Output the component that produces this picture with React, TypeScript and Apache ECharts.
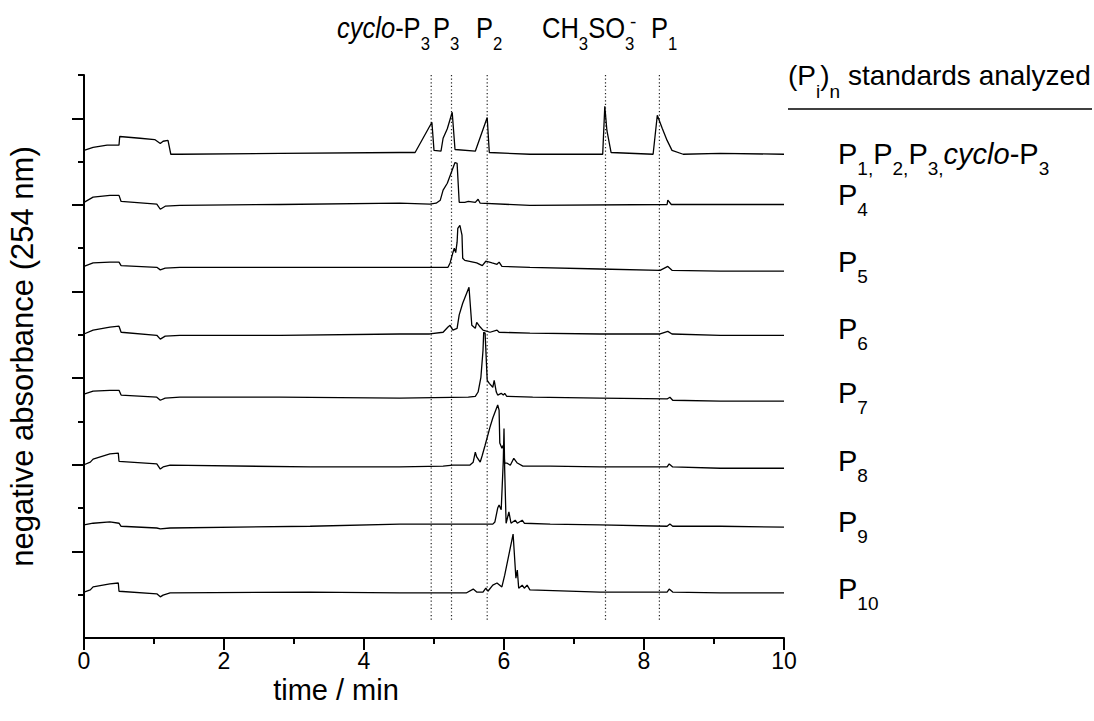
import React, { useEffect, useRef } from "react";
import * as echarts from "echarts";

const FONT = '"Liberation Sans", Arial, Helvetica, sans-serif';

// chromatogram traces: [time / min, stacked negative absorbance (a.u.)]
const traceP1P2P3cyclo = [[0,5.63],[0.13,5.665],[0.33,5.69],[0.5,5.69],[0.51,5.79],[0.8,5.77],[1.01,5.755],[1.09,5.71],[1.13,5.735],[1.2,5.745],[1.24,5.585],[1.37,5.585],[2.8,5.595],[4.51,5.605],[4.73,5.605],[4.97,5.955],[5.0,5.63],[5.1,5.62],[5.13,5.77],[5.19,5.88],[5.26,6.07],[5.3,5.64],[5.59,5.62],[5.76,6.01],[5.79,5.605],[6.37,5.585],[7.41,5.585],[7.44,6.14],[7.47,5.86],[7.53,5.605],[8.13,5.585],[8.19,6.035],[8.26,5.885],[8.33,5.745],[8.4,5.63],[8.56,5.585],[9.09,5.595],[10,5.585]];
const traceP4 = [[0,5.03],[0.13,5.09],[0.37,5.11],[0.5,5.11],[0.53,5.04],[1.04,5.01],[1.09,4.95],[1.16,4.985],[1.37,4.995],[2.8,5.005],[4.51,5.02],[4.94,5.01],[5.03,5.02],[5.09,5.055],[5.13,5.17],[5.19,5.25],[5.3,5.49],[5.33,5.48],[5.36,5.03],[5.44,5.03],[5.49,5.04],[5.59,5.03],[5.63,5.065],[5.66,5.02],[6.37,4.995],[8.33,5.005],[8.34,5.055],[8.39,5.005],[9.09,5.005],[10,5.005]];
const traceP5 = [[0,4.29],[0.13,4.33],[0.37,4.34],[0.5,4.34],[0.53,4.3],[1.04,4.28],[1.09,4.25],[1.16,4.27],[1.37,4.28],[2.8,4.28],[4.51,4.28],[5.2,4.28],[5.23,4.33],[5.27,4.45],[5.29,4.5],[5.31,4.45],[5.33,4.57],[5.34,4.73],[5.37,4.765],[5.4,4.65],[5.41,4.385],[5.44,4.36],[5.61,4.33],[5.69,4.3],[5.74,4.35],[5.83,4.33],[5.9,4.315],[5.93,4.34],[5.97,4.29],[6.37,4.28],[7.37,4.26],[8.23,4.245],[8.34,4.29],[8.4,4.245],[9.09,4.235],[10,4.235]];
const traceP6 = [[0,3.51],[0.13,3.555],[0.37,3.59],[0.5,3.6],[0.53,3.53],[1.04,3.495],[1.09,3.45],[1.16,3.485],[1.37,3.495],[2.8,3.495],[4.51,3.51],[4.94,3.51],[5.13,3.53],[5.2,3.59],[5.23,3.61],[5.27,3.555],[5.33,3.575],[5.36,3.73],[5.41,3.865],[5.5,4.05],[5.54,3.61],[5.59,3.575],[5.61,3.645],[5.66,3.59],[5.7,3.555],[5.8,3.53],[5.9,3.555],[5.93,3.53],[6.37,3.52],[7.37,3.51],[8.23,3.51],[8.34,3.54],[8.4,3.51],[9.09,3.495],[10,3.495]];
const traceP7 = [[0,2.815],[0.13,2.85],[0.37,2.86],[0.5,2.86],[0.53,2.805],[1.04,2.78],[1.09,2.745],[1.16,2.77],[1.37,2.78],[2.8,2.78],[4.51,2.77],[5.49,2.78],[5.59,2.79],[5.63,2.84],[5.67,3.01],[5.7,3.32],[5.71,3.53],[5.73,3.52],[5.76,2.975],[5.79,2.94],[5.84,2.895],[5.86,2.975],[5.89,2.84],[5.91,2.805],[5.96,2.825],[5.99,2.805],[6.01,2.825],[6.04,2.79],[6.41,2.78],[7.37,2.77],[8.33,2.76],[8.37,2.78],[8.41,2.745],[9.09,2.735],[10,2.735]];
const traceP8 = [[0,2.0],[0.09,2.03],[0.13,2.065],[0.37,2.125],[0.49,2.135],[0.5,2.04],[1.04,2.01],[1.09,1.95],[1.13,1.975],[1.23,1.995],[3.23,1.975],[4.51,1.975],[5.13,1.985],[5.27,1.995],[5.51,1.995],[5.56,2.03],[5.59,2.145],[5.61,2.09],[5.66,2.03],[5.69,2.11],[5.73,2.225],[5.8,2.435],[5.84,2.54],[5.91,2.69],[5.93,2.63],[5.94,2.25],[5.97,2.19],[5.99,2.225],[6.01,2.02],[6.04,2.02],[6.09,1.995],[6.14,2.075],[6.19,2.02],[6.27,1.985],[6.66,1.985],[7.37,1.975],[8.33,1.975],[8.36,2.01],[8.41,1.975],[9.09,1.96],[10,1.96]];
const traceP9 = [[0,1.305],[0.13,1.325],[0.37,1.34],[0.5,1.325],[0.53,1.29],[1.04,1.27],[1.09,1.26],[1.23,1.27],[3.23,1.29],[4.51,1.315],[5.84,1.315],[5.87,1.34],[5.91,1.5],[5.93,1.535],[5.96,1.48],[5.99,2.05],[6.0,2.42],[6.01,1.94],[6.03,1.325],[6.07,1.455],[6.1,1.325],[6.16,1.36],[6.19,1.325],[6.26,1.36],[6.29,1.325],[6.66,1.315],[7.37,1.305],[8.33,1.29],[8.37,1.315],[8.41,1.29],[9.09,1.29],[10,1.28]];
const traceP10 = [[0,0.53],[0.09,0.555],[0.13,0.59],[0.37,0.625],[0.49,0.635],[0.5,0.54],[1.04,0.51],[1.09,0.475],[1.13,0.495],[1.23,0.52],[3.23,0.53],[4.51,0.52],[5.46,0.52],[5.56,0.565],[5.61,0.53],[5.7,0.53],[5.74,0.575],[5.77,0.54],[5.84,0.61],[5.9,0.635],[5.97,0.59],[6.01,0.725],[6.13,1.2],[6.17,0.69],[6.19,0.785],[6.21,0.575],[6.26,0.61],[6.29,0.575],[6.33,0.61],[6.37,0.555],[7.37,0.53],[8.33,0.53],[8.36,0.565],[8.41,0.53],[9.09,0.52],[10,0.52]];

const traces = [traceP1P2P3cyclo, traceP4, traceP5, traceP6, traceP7, traceP8, traceP9, traceP10];

// standards analyzed (rich text, one per trace)
const standardLabels = [
  "{m|P}{s|1,}{m|P}{s|2,}{m|P}{s|3,}{i|cyclo}{m|-P}{s|3}",
  "{m|P}{s|4}",
  "{m|P}{s|5}",
  "{m|P}{s|6}",
  "{m|P}{s|7}",
  "{m|P}{s|8}",
  "{m|P}{s|9}",
  "{m|P}{s|10}",
];
const standardBaselines = [165, 206, 273, 340, 404, 472, 533, 600];

// retention markers (dotted lines) and their peak labels
const markerTimes = [4.96, 5.25, 5.76, 7.45, 8.22];
const markerLabels = ["{i|cyclo}{m|-P}{s|3}", "{m|P}{s|3}", "{m|P}{s|2}", "{m|CH}{s|3}{m|SO}{s|3}", "{m|P}{s|1}"];
const markerLabelX = [337, 433, 476, 542, 651];

const xTicks = { min: 0, max: 10, interval: 2 };
const yMajorTicks = [1, 2, 3, 4, 5, 6];
const yMinorTicks = [0.5, 1.5, 2.5, 3.5, 4.5, 5.5, 6.5];

function richStyles(size: number, sub: number, drop: number) {
  const pad = drop + 1 + 0.8465 * (size - sub);
  const base = { fontSize: size, fontFamily: FONT, color: "#000", lineHeight: size + 2, verticalAlign: "top" };
  return {
    m: base,
    i: { ...base, fontStyle: "italic" },
    s: { fontSize: sub, fontFamily: FONT, color: "#000", lineHeight: sub, verticalAlign: "top", padding: [pad, 0, 0, 0] },
  };
}
function baselineOffset(size: number) {
  return size / 2 + 1 + 0.3465 * size;
}

export default function App() {
  const ref = useRef<HTMLDivElement>(null);
  useEffect(() => {
    if (!ref.current) return;
    const chart = echarts.init(ref.current, null, { renderer: "svg" });

    const series: any[] = traces.map((d, i) => ({
      type: "line",
      name: "trace" + i,
      data: d,
      showSymbol: false,
      symbol: "none",
      silent: true,
      lineStyle: { color: "#000", width: 1.3 },
      z: 3,
    }));
    markerTimes.forEach((t, i) => {
      series.push({
        type: "line",
        name: "marker" + i,
        data: [[t, 0.21], [t, 6.53]],
        showSymbol: false,
        symbol: "none",
        silent: true,
        clip: false,
        lineStyle: { color: "#222", width: 1.2, type: [1.2, 2.4] },
        z: 2,
      });
    });

    const graphic: any[] = [];
    const topRich = richStyles(29, 19, 11);
    markerLabels.forEach((txt, i) => {
      graphic.push({
        type: "text",
        x: markerLabelX[i],
        y: 39 - baselineOffset(29),
        scaleX: 0.88,
        style: { text: txt, rich: topRich, align: "left", verticalAlign: "top" },
      });
    });
    graphic.push({
      type: "text",
      x: 630,
      y: 21,
      style: { text: "-", fontSize: 19, fontFamily: FONT, fill: "#000", align: "left", verticalAlign: "middle" },
    });
    const headRich = richStyles(28, 19, 12);
    graphic.push({
      type: "text",
      x: 788,
      y: 86 - baselineOffset(28),
      style: { text: "{m|(P}{s|i}{m|)}{s|n}{m| standards analyzed}", rich: headRich, align: "left", verticalAlign: "top" },
    });
    graphic.push({
      type: "line",
      shape: { x1: 788, y1: 109, x2: 1092, y2: 109 },
      style: { stroke: "#000", lineWidth: 1.5 },
    });
    const labRich = richStyles(29, 19, 10);
    standardLabels.forEach((txt, i) => {
      graphic.push({
        type: "text",
        x: 838,
        y: standardBaselines[i] - baselineOffset(29),
        style: { text: txt, rich: labRich, align: "left", verticalAlign: "top" },
      });
    });
    graphic.push({
      type: "text",
      x: 336,
      y: 690,
      style: { text: "time / min", fontSize: 29, fontFamily: FONT, fill: "#000", align: "center", verticalAlign: "middle" },
    });

    chart.setOption({
      animation: false,
      backgroundColor: "#fff",
      grid: { left: 84, top: 75, right: 310, bottom: 83, containLabel: false, outerBoundsMode: "none" },
      xAxis: {
        type: "value",
        min: xTicks.min,
        max: xTicks.max,
        interval: xTicks.interval,
        axisLine: { show: true, onZero: false, lineStyle: { color: "#000", width: 2 } },
        axisTick: { show: true, length: 12, lineStyle: { color: "#000", width: 2 } },
        minorTick: { show: true, splitNumber: 2, length: 6, lineStyle: { color: "#000", width: 2 } },
        splitLine: { show: false },
        axisLabel: { fontSize: 23, color: "#000", fontFamily: FONT, margin: 11 },
      },
      yAxis: [
        {
          type: "value",
          min: 0,
          max: 6.5,
          position: "left",
          axisLine: { show: true, onZero: false, lineStyle: { color: "#000", width: 2 } },
          axisTick: { show: true, customValues: yMajorTicks, length: 12, lineStyle: { color: "#000", width: 2 } },
          axisLabel: { show: false },
          splitLine: { show: false },
          name: "negative absorbance (254 nm)",
          nameLocation: "middle",
          nameGap: 46,
          nameTextStyle: { fontSize: 31, color: "#000", fontFamily: FONT },
        },
        {
          type: "value",
          min: 0,
          max: 6.5,
          position: "left",
          offset: 0,
          axisLine: { show: false },
          axisTick: { show: true, customValues: yMinorTicks, length: 6, lineStyle: { color: "#000", width: 2 } },
          axisLabel: { show: false },
          splitLine: { show: false },
        },
      ],
      series,
      graphic,
    });
    return () => chart.dispose();
  }, []);
  return <div ref={ref} style={{ position: "fixed", left: 0, top: 0, width: 1094, height: 721 }} />;
}
